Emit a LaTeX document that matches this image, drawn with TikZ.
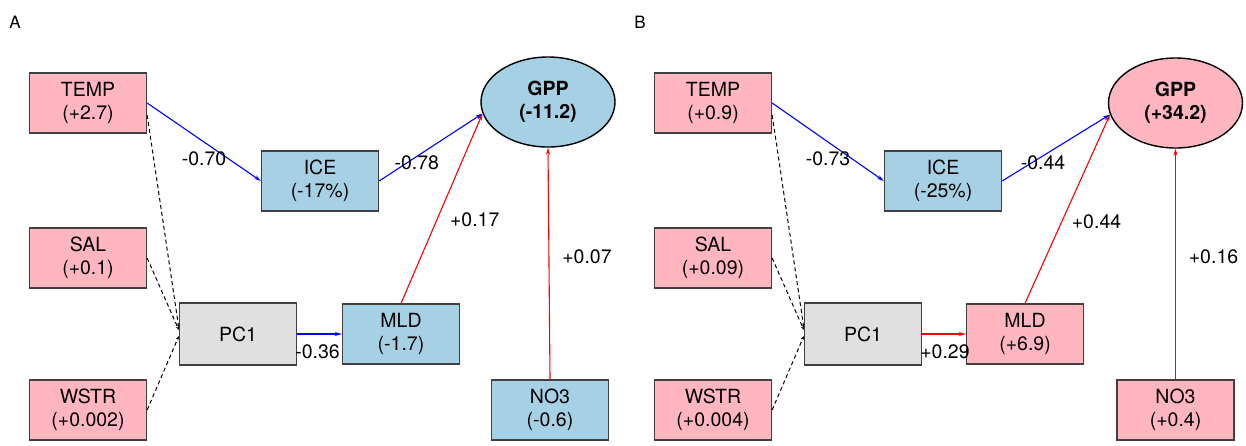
\documentclass[tikz,border=0pt]{standalone}
\usepackage{fontspec}
\setmainfont{TeX Gyre Heros}
\usepackage{xcolor}
\usetikzlibrary{shapes,arrows.meta}
\definecolor{pinkfill}{HTML}{FFB6C1}
\definecolor{bluefill}{HTML}{A6D0E4}
\definecolor{greyfill}{HTML}{E0E0E0}
\definecolor{boxline}{HTML}{404040}

\begin{document}
\begin{tikzpicture}[x=1pt,y=-1pt,
  var/.style={draw=boxline,line width=1.3pt,minimum width=117pt,minimum height=60pt,
    align=center,font=\fontsize{19.5}{23}\selectfont},
  posvar/.style={var,fill=pinkfill},
  negvar/.style={var,fill=bluefill},
  pcvar/.style={var,fill=greyfill,minimum height=62pt},
  target/.style={ellipse,draw=black,line width=1.4pt,minimum width=134pt,minimum height=90pt,
    inner sep=0pt,align=center,font=\fontsize{19.5}{23}\selectfont\bfseries},
  path/.style={line width=1.1pt,-{Stealth[length=7pt,width=4pt]}},
  negpath/.style={path,blue},
  pospath/.style={path,red},
  loading/.style={line width=1pt,dash pattern=on 4pt off 3pt,-{Stealth[length=4pt,width=3pt]}},
  coef/.style={inner sep=1pt,text=black,font=\fontsize{19.5}{21}\selectfont},
  panel/.style={font=\fontsize{17}{20}\selectfont}]
\useasboundingbox (0,0) rectangle (1246,445);

% panel A
\node[panel] (laba) at (15,22) {A};
\node[posvar] (tempa) at (88,103) {TEMP\\(+2.7)};
\node[posvar] (sala) at (88,258) {SAL\\(+0.1)};
\node[posvar] (wstra) at (88,410) {WSTR\\(+0.002)};
\node[negvar] (icea) at (320,181) {ICE\\(-17\%)};
\node[pcvar] (pc1a) at (238,334) {PC1};
\node[negvar] (mlda) at (401,334) {MLD\\(-1.7)};
\node[negvar] (no3a) at (550,410) {NO3\\(-0.6)};
\node[target,fill=bluefill] (gppa) at (548,102) {GPP\\(-11.2)};

\draw[negpath] (tempa.east) -- node[coef,pos=0.5,yshift=-17pt]{-0.70} (icea.west);
\draw[negpath] (icea.east) -- node[coef,pos=0.5,xshift=-14pt,yshift=-15pt]{-0.78} (gppa.190);
\draw[pospath] (mlda.north) -- node[coef,pos=0.5,xshift=33pt,yshift=-11pt]{+0.17} (gppa.190);
\draw[pospath] (no3a.north) -- node[coef,pos=0.5,xshift=38pt,yshift=7pt]{+0.07} (gppa.south);
\draw[negpath] (pc1a.east) -- node[coef,pos=0.5,xshift=-2pt,yshift=-18pt]{-0.36} (mlda.west);
\draw[loading] ([yshift=-12pt]tempa.east) -- ([yshift=6pt]pc1a.west);
\draw[loading] (sala.east) -- ([yshift=4pt]pc1a.west);
\draw[loading] (wstra.east) -- ([yshift=-2pt]pc1a.west);

% panel B
\node[panel] (labb) at (640,22) {B};
\node[posvar] (tempb) at (713,103) {TEMP\\(+0.9)};
\node[posvar] (salb) at (713,258) {SAL\\(+0.09)};
\node[posvar] (wstrb) at (713,410) {WSTR\\(+0.004)};
\node[negvar] (iceb) at (943,181) {ICE\\(-25\%)};
\node[pcvar] (pc1b) at (863,334) {PC1};
\node[posvar] (mldb) at (1025,334) {MLD\\(+6.9)};
\node[posvar] (no3b) at (1175.5,410) {NO3\\(+0.4)};
\node[target,fill=pinkfill] (gppb) at (1175.5,103) {GPP\\(+34.2)};

\draw[negpath] (tempb.east) -- node[coef,pos=0.5,yshift=-17pt]{-0.73} (iceb.west);
\draw[negpath] (iceb.east) -- node[coef,pos=0.5,xshift=-13pt,yshift=-15pt]{-0.44} (gppb.190);
\draw[pospath] (mldb.north) -- node[coef,pos=0.5,xshift=29pt,yshift=-13pt]{+0.44} (gppb.190);
\draw[pospath] (no3b.north) -- node[coef,pos=0.5,xshift=38pt,yshift=7pt]{+0.16} (gppb.south);
\draw[pospath] (pc1b.east) -- node[coef,pos=0.5,xshift=1pt,yshift=-18pt]{+0.29} (mldb.west);
\draw[loading] ([yshift=-12pt]tempb.east) -- ([yshift=6pt]pc1b.west);
\draw[loading] (salb.east) -- ([yshift=4pt]pc1b.west);
\draw[loading] (wstrb.east) -- ([yshift=-2pt]pc1b.west);
\end{tikzpicture}
\end{document}
